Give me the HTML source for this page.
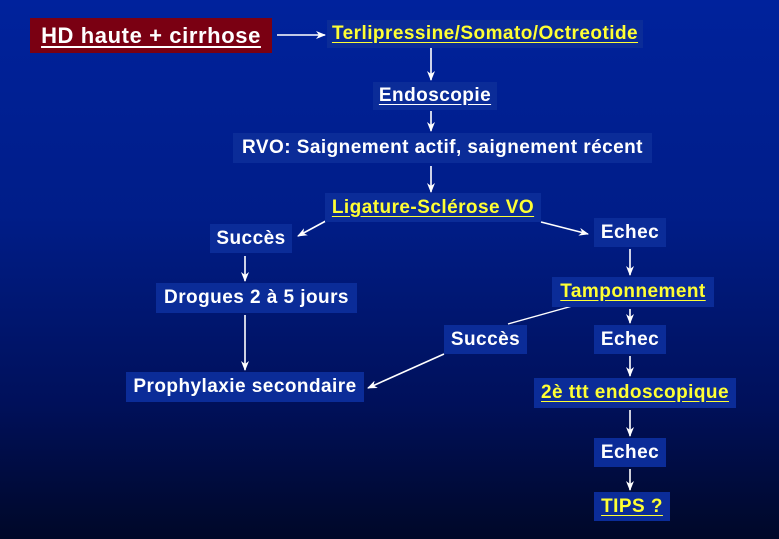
<!DOCTYPE html>
<html><head><meta charset="utf-8"><style>
html,body{margin:0;padding:0}
body{width:779px;height:539px;overflow:hidden;position:relative;background:linear-gradient(#00229c 0%,#001d88 40%,#00105a 75%,#000828 100%);font-family:"Liberation Sans",sans-serif;font-weight:bold}
.b{position:absolute;background:#0b2c98;color:#fff;font-size:19px;letter-spacing:0.45px;display:flex;align-items:center;justify-content:center;white-space:nowrap}
.y{color:#ffff33}
.u span{text-decoration:underline;text-underline-offset:3px}
svg{position:absolute;left:0;top:0}
</style></head><body>
<svg width="779" height="539">
<defs><marker id="a" markerWidth="10" markerHeight="8" refX="9" refY="4" orient="auto" markerUnits="userSpaceOnUse"><path d="M0,0 L10,4 L0,8 L3,4 z" fill="#fff"/></marker></defs>
<g stroke="#fff" stroke-width="1.6" fill="none" marker-end="url(#a)">
<line x1="277" y1="35" x2="325" y2="35"/>
<line x1="431" y1="48" x2="431" y2="80"/>
<line x1="431" y1="111" x2="431" y2="131"/>
<line x1="431" y1="166" x2="431" y2="192"/>
<line x1="335" y1="216" x2="298" y2="236"/>
<line x1="541" y1="222" x2="588" y2="234"/>
<line x1="245" y1="256" x2="245" y2="281"/>
<line x1="245" y1="315" x2="245" y2="370"/>
<line x1="630" y1="249" x2="630" y2="275"/>
<line x1="630" y1="309" x2="630" y2="323"/>
<line x1="444" y1="354" x2="368" y2="388"/>
<line x1="630" y1="356" x2="630" y2="376"/>
<line x1="630" y1="410" x2="630" y2="436"/>
<line x1="630" y1="469" x2="630" y2="490"/>
</g>
<line x1="576" y1="305" x2="508" y2="324" stroke="#fff" stroke-width="1.4"/>
</svg>
<div class="b u" style="left:30px;top:18px;width:242px;height:35px;background:#7a0012;font-size:22px;letter-spacing:0.6px"><span>HD haute + cirrhose</span></div>
<div class="b u y" style="left:327px;top:20px;width:316px;height:28px"><span>Terlipressine/Somato/Octreotide</span></div>
<div class="b u" style="left:373px;top:82px;width:124px;height:28px"><span>Endoscopie</span></div>
<div class="b" style="left:233px;top:133px;width:419px;height:30px">RVO: Saignement actif, saignement récent</div>
<div class="b u y" style="left:325px;top:193px;width:216px;height:29px"><span>Ligature-Sclérose VO</span></div>
<div class="b" style="left:210px;top:224px;width:82px;height:29px">Succès</div>
<div class="b" style="left:594px;top:218px;width:72px;height:29px">Echec</div>
<div class="b" style="left:156px;top:283px;width:201px;height:30px">Drogues 2 à 5 jours</div>
<div class="b u y" style="left:552px;top:277px;width:162px;height:30px"><span>Tamponnement</span></div>
<div class="b" style="left:444px;top:325px;width:83px;height:29px">Succès</div>
<div class="b" style="left:594px;top:325px;width:72px;height:29px">Echec</div>
<div class="b" style="left:126px;top:372px;width:238px;height:30px">Prophylaxie secondaire</div>
<div class="b u y" style="left:534px;top:378px;width:202px;height:30px"><span>2è ttt endoscopique</span></div>
<div class="b" style="left:594px;top:438px;width:72px;height:29px">Echec</div>
<div class="b u y" style="left:594px;top:492px;width:76px;height:29px"><span>TIPS ?</span></div>
</body></html>
